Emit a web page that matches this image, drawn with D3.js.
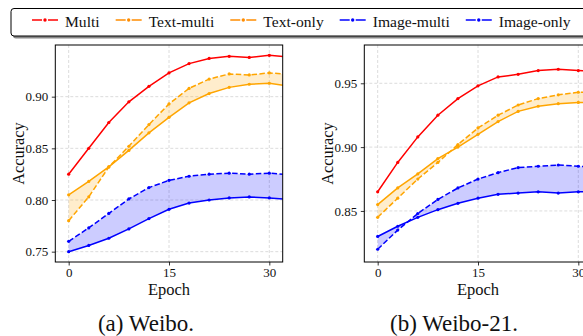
<!DOCTYPE html>
<html><head><meta charset="utf-8">
<script src="https://cdn.jsdelivr.net/npm/d3@7"></script>
<style>
html,body{margin:0;padding:0;background:#fff;}
svg{display:block;}
text{font-family:'Liberation Serif','Times New Roman',serif;}
</style></head>
<body><svg id="c" width="583" height="336"></svg>
<script>
const epochs = [0,3,6,9,12,15,18,21,24,27,30,33];
const seriesNames = ["Multi","Text-multi","Text-only","Image-multi","Image-only"];
// Weibo
const weiboMulti      = [0.825,0.850,0.875,0.895,0.910,0.923,0.932,0.937,0.939,0.938,0.940,0.9385];
const weiboTextMulti  = [0.780,0.803,0.832,0.852,0.873,0.893,0.908,0.917,0.922,0.921,0.923,0.9215];
const weiboTextOnly   = [0.805,0.818,0.832,0.848,0.865,0.880,0.894,0.903,0.909,0.912,0.913,0.910];
const weiboImageMulti = [0.760,0.773,0.787,0.801,0.812,0.819,0.823,0.825,0.826,0.825,0.826,0.8245];
const weiboImageOnly  = [0.750,0.756,0.763,0.772,0.782,0.791,0.797,0.800,0.802,0.803,0.802,0.8005];
// Weibo-21
const w21Multi      = [0.865,0.888,0.908,0.925,0.938,0.948,0.955,0.957,0.960,0.961,0.960,0.959];
const w21TextMulti  = [0.845,0.860,0.875,0.888,0.902,0.915,0.925,0.933,0.938,0.941,0.943,0.943];
const w21TextOnly   = [0.855,0.868,0.879,0.891,0.900,0.910,0.920,0.928,0.932,0.934,0.935,0.935];
const w21ImageMulti = [0.820,0.835,0.848,0.859,0.868,0.875,0.880,0.884,0.885,0.886,0.885,0.884];
const w21ImageOnly  = [0.830,0.838,0.845,0.851,0.856,0.860,0.863,0.864,0.865,0.864,0.865,0.865];

const xTicks = [0,15,30];
const weiboYTicks = [0.75,0.80,0.85,0.90];
const w21YTicks = [0.85,0.90,0.95];
const captions = ["(a) Weibo.","(b) Weibo-21."];

const FONT = "'Liberation Serif', 'Times New Roman', serif";
const colors = {"Multi":"#ff0000","Text-multi":"#ffa500","Text-only":"#ffa500","Image-multi":"#0000ff","Image-only":"#0000ff"};
const legendColors = {"Multi":"#ff0000","Text-multi":"#ff8c00","Text-only":"#ff8c00","Image-multi":"#0000ff","Image-only":"#0000ff"};
const dashed = {"Multi":false,"Text-multi":true,"Text-only":false,"Image-multi":true,"Image-only":false};

const svg = d3.select("#c");
svg.append("rect").attr("width",583).attr("height",336).attr("fill","#fff");

function panel(id, left, yDomain, yTicks, data, caption, captionX){
  const W = 227.4, top = 45, bottom = 262;
  const x = d3.scaleLinear().domain([-2,32]).range([left,left+W]);
  const y = d3.scaleLinear().domain(yDomain).range([bottom,top]);
  const g = svg.append("g");
  g.append("clipPath").attr("id","clip"+id).append("rect")
    .attr("x",left).attr("y",top).attr("width",W).attr("height",bottom-top);
  const grid = g.append("g").attr("stroke","#d3d3d3").attr("stroke-width",0.8).attr("stroke-dasharray","3,2");
  xTicks.forEach(t=>grid.append("line").attr("x1",x(t)).attr("x2",x(t)).attr("y1",top).attr("y2",bottom));
  yTicks.forEach(t=>grid.append("line").attr("x1",left).attr("x2",left+W).attr("y1",y(t)).attr("y2",y(t)));
  const plot = g.append("g").attr("clip-path","url(#clip"+id+")");
  const pts = (arr)=>arr.map((v,i)=>[epochs[i],v]);
  const area = d3.area().x(d=>x(d[0])).y0(d=>y(d[1])).y1(d=>y(d[2]));
  const band = (a,b)=>a.map((v,i)=>[epochs[i],v,b[i]]);
  plot.append("path").attr("d",area(band(data["Text-multi"],data["Text-only"]))).attr("fill","#ffa500").attr("fill-opacity",0.2);
  plot.append("path").attr("d",area(band(data["Image-multi"],data["Image-only"]))).attr("fill","#0000ff").attr("fill-opacity",0.2);
  const line = d3.line().x(d=>x(d[0])).y(d=>y(d[1]));
  seriesNames.forEach(n=>{
    plot.append("path").attr("d",line(pts(data[n]))).attr("fill","none")
      .attr("stroke",colors[n]).attr("stroke-width",1.5)
      .attr("stroke-dasharray",dashed[n]?"5.5,2.4":null);
    plot.selectAll(null).data(pts(data[n])).enter().append("circle")
      .attr("cx",d=>x(d[0])).attr("cy",d=>y(d[1])).attr("r",1.6).attr("fill",colors[n]);
  });
  g.append("rect").attr("x",left).attr("y",top).attr("width",W).attr("height",bottom-top)
    .attr("fill","none").attr("stroke","#000").attr("stroke-width",1);
  const xa = g.append("g").attr("transform",`translate(0,${bottom})`)
    .call(d3.axisBottom(x).tickValues(xTicks).tickFormat(d3.format("d")).tickSize(3.5).tickPadding(2.5));
  const ya = g.append("g").attr("transform",`translate(${left},0)`)
    .call(d3.axisLeft(y).tickValues(yTicks).tickFormat(d3.format(".2f")).tickSize(3.5).tickPadding(3.5));
  [xa,ya].forEach(a=>{
    a.attr("font-family",FONT).attr("font-size",13);
    a.select(".domain").remove();
    a.selectAll("line").attr("stroke","#000").attr("stroke-width",0.8);
    a.selectAll("text").attr("font-family",FONT).attr("font-size",13).attr("fill","#111");
  });
  ya.selectAll("text").attr("dy","0.33em");
  g.append("text").attr("x",left+W/2).attr("y",294.5).attr("text-anchor","middle").attr("font-family",FONT)
    .attr("font-size",16.5).attr("fill","#111").text("Epoch");
  g.append("text").attr("transform",`translate(${left-31.5},${(top+bottom)/2}) rotate(-90)`).attr("font-family",FONT)
    .attr("text-anchor","middle").attr("font-size",16.3).attr("fill","#111").text("Accuracy");
  svg.append("text").attr("x",captionX).attr("y",331).attr("text-anchor","middle").attr("font-family",FONT)
    .attr("font-size",23).attr("fill","#111").text(caption);
}

panel("a",55.3,[0.74,0.95],weiboYTicks,
  {"Multi":weiboMulti,"Text-multi":weiboTextMulti,"Text-only":weiboTextOnly,"Image-multi":weiboImageMulti,"Image-only":weiboImageOnly},
  captions[0],146);
panel("b",364.3,[0.81,0.98],w21YTicks,
  {"Multi":w21Multi,"Text-multi":w21TextMulti,"Text-only":w21TextOnly,"Image-multi":w21ImageMulti,"Image-only":w21ImageOnly},
  captions[1],454);

const lg = svg.append("g");
lg.append("rect").attr("x",13).attr("y",10.5).attr("width",590).attr("height",28).attr("rx",3).attr("fill","#888");
lg.append("rect").attr("x",11).attr("y",8.5).attr("width",590).attr("height",27.5).attr("rx",3)
  .attr("fill","#fff").attr("stroke","#000").attr("stroke-width",1);
let cx = 32;
seriesNames.forEach(n=>{
  const c = legendColors[n];
  lg.append("line").attr("x1",cx).attr("x2",cx+10).attr("y1",20).attr("y2",20).attr("stroke",c).attr("stroke-width",1.5);
  lg.append("line").attr("x1",cx+16).attr("x2",cx+26).attr("y1",20).attr("y2",20).attr("stroke",c).attr("stroke-width",1.5);
  lg.append("circle").attr("cx",cx+13).attr("cy",20).attr("r",1.7).attr("fill",c);
  const t = lg.append("text").attr("x",cx+33).attr("y",26.5).attr("font-family",FONT).attr("font-size",15.6).attr("fill","#111").text(n);
  cx = cx + 33 + t.node().getComputedTextLength() + 16;
});
</script></body></html>
